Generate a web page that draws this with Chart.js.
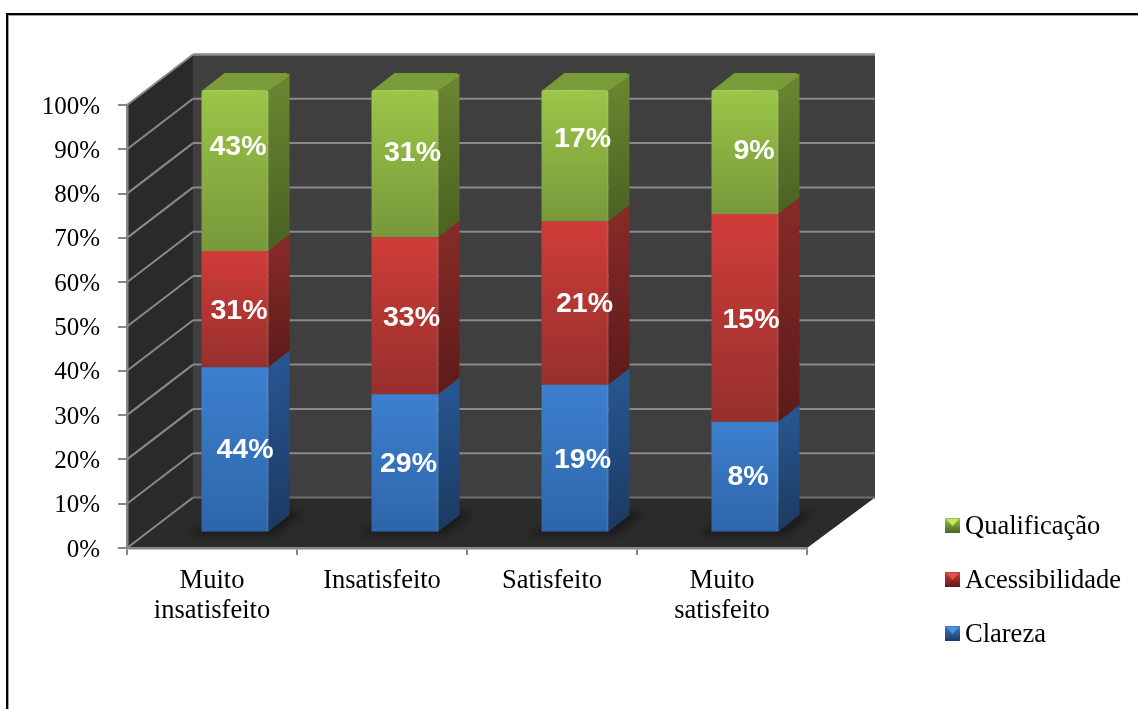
<!DOCTYPE html>
<html>
<head>
<meta charset="utf-8">
<title>Chart</title>
<script src="https://cdn.jsdelivr.net/npm/chart.js@4"></script>
<style>
    html, body { margin: 0; padding: 0; background: #ffffff; overflow: hidden; }
    #frame { position: absolute; left: 6px; top: 13px; width: 1132px; height: 696px; border-top: 2px solid #000; border-left: 2px solid #000; box-sizing: border-box; box-shadow: inset 1px 1px 0 #a0a0a0; }
    #satisfaction_chart { position: absolute; left: 0; top: 0; }
</style>
</head>
<body>
<div id="frame"></div>
<canvas id="satisfaction_chart" width="1138" height="709"></canvas>
<script>
const category_labels = [["Muito", "insatisfeito"], "Insatisfeito", "Satisfeito", ["Muito", "satisfeito"]];
const clareza_values = [44, 29, 19, 8];
const acessibilidade_values = [31, 33, 21, 15];
const qualificacao_values = [43, 31, 17, 9];

// the picture is a 100% stacked column, the printed labels are the raw counts
const totals = clareza_values.map((value, i) => value + acessibilidade_values[i] + qualificacao_values[i]);
const to_share = (values) => values.map((value, i) => value / totals[i] * 100);

const wall_depth = { x: 66, y: -50.5 };
const bar_offset = { x: 23, y: -15.5 };
const bar_depth = { x: 21, y: -16.5 };
const serif_font = "'Liberation Serif', 'Times New Roman', serif";

const blue_colors = { top: "#3d80cf", bottom: "#2e65a9", side_top: "#27558f", side_bottom: "#1b3a60", legend: "#4a90dc" };
const red_colors = { top: "#d03c38", bottom: "#96302d", side_top: "#852a27", side_bottom: "#5c1b1a", legend: "#e0524e" };
const green_colors = { top: "#9cc548", bottom: "#77983a", side_top: "#688430", side_bottom: "#4a6122", legend: "#c4e862" };

// hand placed labels in the original, offset from the centre of each front face
const label_nudges =
[
    [[10, 1], [3.5, 1], [7.5, 2], [3, 1]],
    [[4, 2], [6.5, 2], [9.5, 1], [6, 2]],
    [[3, -23.5], [7.5, -10], [7.5, -16], [9, -1]]
];

function face_gradient(context, colors)
{
    const chart = context.chart;
    if (context.dataIndex === undefined || !chart.chartArea)
    {
        return colors.top;
    }
    let low = 0;
    for (let i = 0; i < context.datasetIndex; i++)
    {
        low += chart.data.datasets[i].data[context.dataIndex];
    }
    const high = low + chart.data.datasets[context.datasetIndex].data[context.dataIndex];
    const scale = chart.scales.y;
    const gradient = chart.ctx.createLinearGradient(0, scale.getPixelForValue(high), 0, scale.getPixelForValue(low));
    gradient.addColorStop(0, colors.top);
    gradient.addColorStop(1, colors.bottom);
    return gradient;
}

function fill_polygon(ctx, points, fill)
{
    ctx.beginPath();
    points.forEach((point, i) => i === 0 ? ctx.moveTo(point[0], point[1]) : ctx.lineTo(point[0], point[1]));
    ctx.closePath();
    ctx.fillStyle = fill;
    ctx.fill();
}

function stroke_line(ctx, x1, y1, x2, y2, color, width)
{
    ctx.beginPath();
    ctx.moveTo(x1, y1);
    ctx.lineTo(x2, y2);
    ctx.strokeStyle = color;
    ctx.lineWidth = width;
    ctx.stroke();
}

const room_plugin =
{
    id: "room",
    beforeDraw(chart)
    {
        const ctx = chart.ctx;
        const area = chart.chartArea;
        const scale = chart.scales.y;
        const back_left = area.left + wall_depth.x;
        const back_right = area.right + wall_depth.x + 2;
        ctx.save();
        fill_polygon(ctx, [[area.left, area.bottom], [area.left, area.top], [back_left, area.top + wall_depth.y], [back_left, area.bottom + wall_depth.y]], "#2a2a2a");
        ctx.fillStyle = "#3f3f3f";
        ctx.fillRect(back_left, area.top + wall_depth.y, back_right - back_left, area.bottom - area.top);
        fill_polygon(ctx, [[area.left, area.bottom], [back_left, area.bottom + wall_depth.y], [back_right, area.bottom + wall_depth.y], [area.right, area.bottom]], "#2b2b2b");
        scale.ticks.forEach((tick) =>
        {
            const y = scale.getPixelForValue(tick.value);
            stroke_line(ctx, area.left, y, back_left, y + wall_depth.y, "#8a8a8a", 2);
            stroke_line(ctx, back_left, y + wall_depth.y, back_right, y + wall_depth.y, tick.value === 0 ? "#6e6e6e" : "#8a8a8a", tick.value === 100 ? 2.5 : 2);
        });
        ctx.restore();
    },
    beforeDatasetsDraw(chart)
    {
        // soft shadow of each column on the floor
        const ctx = chart.ctx;
        ctx.save();
        ctx.filter = "blur(4px)";
        chart.getDatasetMeta(0).data.forEach((bar) =>
        {
            const left = bar.x + bar_offset.x - bar.width / 2;
            const right = bar.x + bar_offset.x + bar.width / 2;
            const base = bar.base + bar_offset.y;
            fill_polygon(ctx, [[left - 14, base + 3], [right + 6, base + 3], [right + bar_depth.x + 14, base + bar_depth.y - 3], [right + bar_depth.x - 4, base + bar_depth.y - 3], [right, base - 4], [left, base - 4]], "rgba(0, 0, 0, 0.45)");
        });
        ctx.restore();
    },
    beforeDatasetDraw(chart, args)
    {
        const ctx = chart.ctx;
        const colors = chart.data.datasets[args.index].face_colors;
        ctx.save();
        ctx.translate(bar_offset.x, bar_offset.y);
        args.meta.data.forEach((bar) =>
        {
            const right = bar.x + bar.width / 2;
            const side = ctx.createLinearGradient(right, bar.y, right + bar_depth.x * 0.4, bar.base);
            side.addColorStop(0, colors.side_top);
            side.addColorStop(1, colors.side_bottom);
            fill_polygon(ctx, [[right, bar.y], [right + bar_depth.x, bar.y + bar_depth.y], [right + bar_depth.x, bar.base + bar_depth.y], [right, bar.base]], side);
        });
    },
    afterDatasetDraw(chart, args)
    {
        const ctx = chart.ctx;
        args.meta.data.forEach((bar) =>
        {
            const right = bar.x + bar.width / 2;
            const left = bar.x - bar.width / 2;
            if (args.index === chart.data.datasets.length - 1)
            {
                fill_polygon(ctx, [[left + 2, bar.y], [left + bar_depth.x + 2, bar.y + bar_depth.y], [right + bar_depth.x - 3, bar.y + bar_depth.y], [right + bar_depth.x, bar.y + bar_depth.y + 3], [right, bar.y + 1]], "#7a9c38");
                stroke_line(ctx, left + 3, bar.y + 1, right - 3, bar.y + 1, "rgba(255, 255, 255, 0.15)", 1.5);
            }
            // bevel along the right edge of the front face
            stroke_line(ctx, right - 1, bar.y + 2, right - 1, bar.base, "rgba(255, 255, 255, 0.07)", 2);
        });
        ctx.restore();
    },
    afterDatasetsDraw(chart)
    {
        const ctx = chart.ctx;
        ctx.save();
        ctx.font = "bold 28.5px 'Liberation Sans', Arial, sans-serif";
        ctx.fillStyle = "#ffffff";
        ctx.textAlign = "center";
        ctx.textBaseline = "middle";
        chart.data.datasets.forEach((dataset, d) =>
        {
            chart.getDatasetMeta(d).data.forEach((bar, i) =>
            {
                const nudge = label_nudges[d][i];
                ctx.fillText(dataset.raw_values[i] + "%", bar.x + bar_offset.x + nudge[0], (bar.y + bar.base) / 2 + bar_offset.y + nudge[1]);
            });
        });

        // legend runs top to bottom in reverse stacking order
        const legend_items = chart.data.datasets.slice().reverse();
        ctx.font = "26.5px " + serif_font;
        ctx.textAlign = "left";
        legend_items.forEach((dataset, i) =>
        {
            const y = 525 + i * 54;
            const x = 945;
            const colors = dataset.face_colors;
            const fade = ctx.createLinearGradient(0, y - 7, 0, y + 8);
            fade.addColorStop(0, colors.top);
            fade.addColorStop(1, colors.side_bottom);
            ctx.fillStyle = fade;
            ctx.fillRect(x, y - 7, 15, 15);
            fill_polygon(ctx, [[x + 1, y - 6], [x + 14, y - 6], [x + 7.5, y + 1]], colors.legend);
            ctx.fillStyle = "#000000";
            ctx.fillText(dataset.label, x + 20, y + 2);
        });
        ctx.restore();
    }
};

const satisfaction_chart = new Chart("satisfaction_chart",
{
    type: "bar",
    plugins: [room_plugin],
    data:
    {
        labels: category_labels,
        datasets:
        [
            {
                label: "Clareza",
                data: to_share(clareza_values),
                raw_values: clareza_values,
                face_colors: blue_colors,
                backgroundColor: (context) => face_gradient(context, blue_colors),
                clip: false
            },
            {
                label: "Acessibilidade",
                data: to_share(acessibilidade_values),
                raw_values: acessibilidade_values,
                face_colors: red_colors,
                backgroundColor: (context) => face_gradient(context, red_colors),
                clip: false
            },
            {
                label: "Qualificação",
                data: to_share(qualificacao_values),
                raw_values: qualificacao_values,
                face_colors: green_colors,
                backgroundColor: (context) => face_gradient(context, green_colors),
                borderRadius: { topLeft: 3, topRight: 3 },
                clip: false
            }
        ]
    },
    options:
    {
        responsive: false,
        animation: false,
        categoryPercentage: 1,
        barPercentage: 0.394,
        layout:
        {
            padding: { left: 0, top: 105, right: 331, bottom: 0 }
        },
        plugins:
        {
            legend:
            {
                display: false
            },
            tooltip:
            {
                enabled: false
            }
        },
        scales:
        {
            x:
            {
                stacked: true,
                afterFit: (scale) => { scale.height = 161; },
                grid:
                {
                    drawOnChartArea: false,
                    color: "#868686",
                    lineWidth: 2,
                    tickLength: 7
                },
                border:
                {
                    color: "#868686",
                    width: 2.5
                },
                ticks:
                {
                    autoSkip: false,
                    maxRotation: 0,
                    padding: 11,
                    color: "#000000",
                    font: { family: serif_font, size: 26.5, lineHeight: 1.13 }
                }
            },
            y:
            {
                stacked: true,
                min: 0,
                max: 100,
                afterFit: (scale) => { scale.width = 127; },
                grid:
                {
                    drawOnChartArea: false,
                    color: "#868686",
                    lineWidth: 2,
                    tickLength: 9
                },
                border:
                {
                    color: "#868686",
                    width: 2.5
                },
                ticks:
                {
                    stepSize: 10,
                    padding: 18,
                    labelOffset: 2,
                    color: "#000000",
                    font: { family: serif_font, size: 25 },
                    callback: (value) => value + "%"
                }
            }
        }
    }
});
</script>
</body>
</html>
